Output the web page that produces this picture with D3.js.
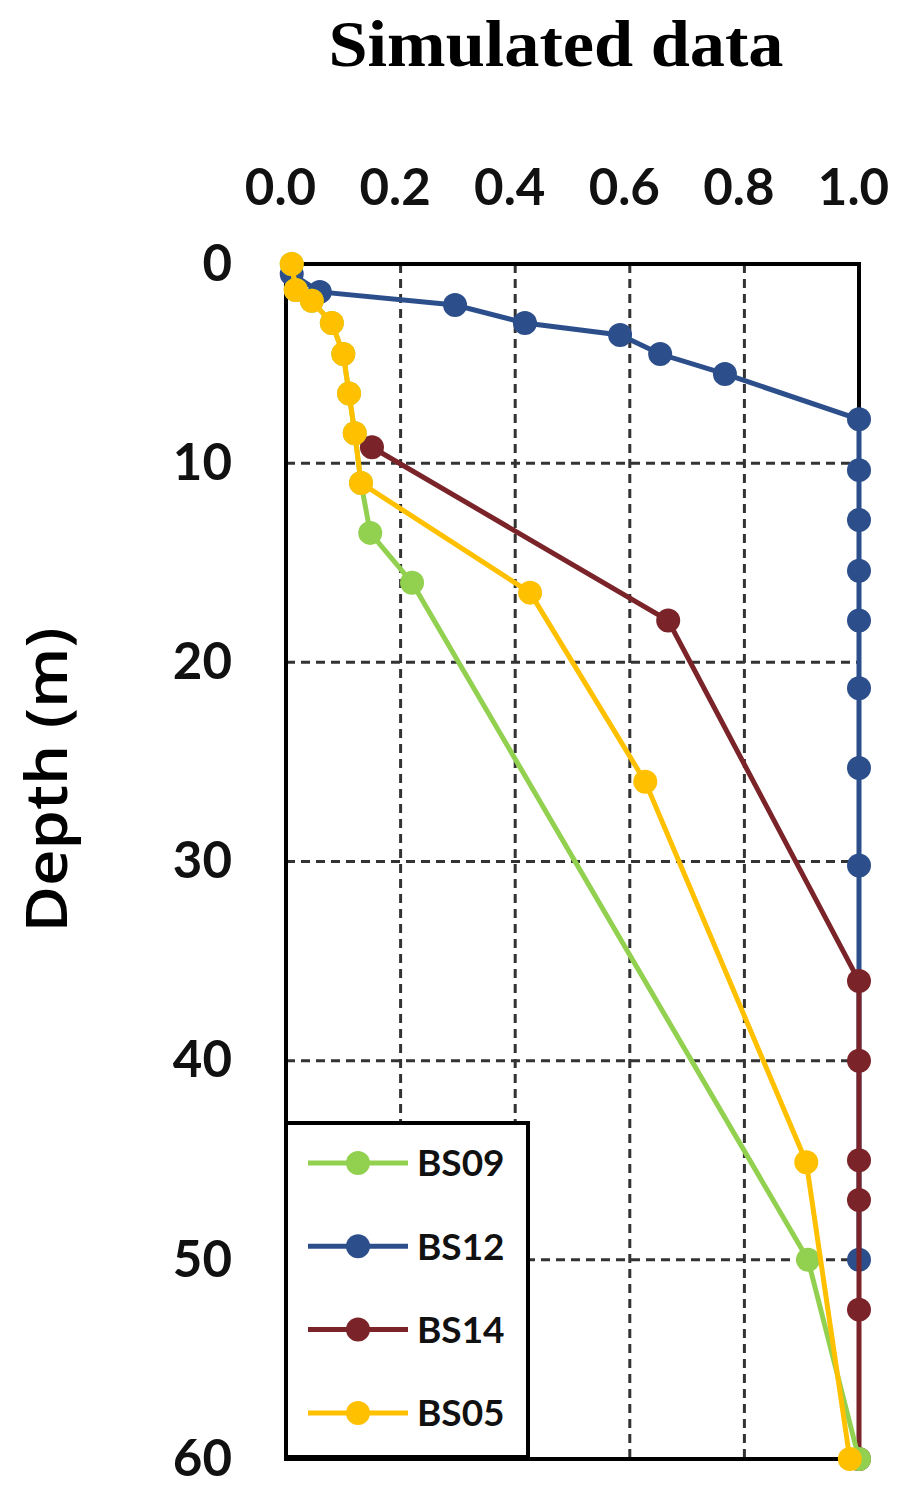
<!DOCTYPE html>
<html>
<head>
<meta charset="utf-8">
<script src="https://cdn.jsdelivr.net/npm/d3@7"></script>
<style>
  body { margin: 0; background: #fff; }
  svg { display: block; }
</style>
</head>
<body>
<svg id="chart" width="901" height="1495"></svg>
<script>
// tick values
const xTicks = [0.0, 0.2, 0.4, 0.6, 0.8, 1.0];
const yTicks = [0, 10, 20, 30, 40, 50, 60];

// series: [value, depth]
const bs12 = [[0.01, 0.5], [0.059, 1.4], [0.295, 2.06], [0.417, 2.96], [0.583, 3.56], [0.653, 4.52], [0.766, 5.52],
  [1.0, 7.8], [1.0, 10.35], [1.0, 12.85], [1.0, 15.4], [1.0, 17.9], [1.0, 21.3], [1.0, 25.3], [1.0, 30.2], [1.0, 50.0]];
const bs14 = [[0.15, 9.2], [0.667, 17.9], [1.0, 36.0], [1.0, 40.0], [1.0, 45.0], [1.0, 47.0], [1.0, 52.5], [1.0, 60.0]];
const bs09 = [[0.01, 0.0], [0.017, 1.3], [0.045, 1.85], [0.08, 2.96], [0.1, 4.52], [0.11, 6.5], [0.12, 8.5], [0.131, 11.0],
  [0.147, 13.5], [0.22, 16.0], [0.911, 50.0], [1.0, 60.0]];
const bs05 = [[0.01, 0.0], [0.017, 1.3], [0.045, 1.85], [0.08, 2.96], [0.1, 4.52], [0.11, 6.5], [0.12, 8.5], [0.131, 11.0],
  [0.426, 16.5], [0.627, 26.0], [0.908, 45.1], [0.984, 60.0]];

const seriesNames = ["BS09", "BS12", "BS14", "BS05"];
const seriesColors = {BS09: "#92d050", BS12: "#2c4f8c", BS14: "#7a2328", BS05: "#ffc000"};
const seriesData = {BS09: bs09, BS12: bs12, BS14: bs14, BS05: bs05};
const drawOrder = ["BS12", "BS14", "BS09", "BS05"];

var svg = d3.select("#chart");

// plot frame in pixels
var pLeft = 286, pRight = 859, pTop = 264, pBottom = 1459;

var x = d3.scaleLinear().domain([0, 1]).range([pLeft, pRight]);
var y = d3.scaleLinear().domain([0, 60]).range([pTop, pBottom]);

// title
svg.append("text")
    .attr("x", 556).attr("y", 66)
    .attr("text-anchor", "middle")
    .attr("font-family", "Liberation Serif, serif")
    .attr("font-weight", "bold")
    .attr("font-size", 66)
    .attr("textLength", 455)
    .attr("lengthAdjust", "spacingAndGlyphs")
    .text("Simulated data");

// axis title
svg.append("text")
    .attr("transform", "translate(67,780) rotate(-90)")
    .attr("text-anchor", "middle")
    .attr("font-family", "Open Sans, sans-serif")
    .attr("font-weight", 600)
    .attr("font-size", 58)
    .attr("textLength", 305)
    .attr("lengthAdjust", "spacingAndGlyphs")
    .text("Depth  (m)");

// grid
var grid = svg.append("g")
    .attr("stroke", "#333")
    .attr("stroke-width", 3)
    .attr("stroke-dasharray", "9,6");

grid.selectAll("line.vx")
    .data(xTicks.slice(1, -1))
    .enter().append("line")
      .attr("x1", d => x(d)).attr("x2", d => x(d))
      .attr("y1", pTop).attr("y2", pBottom);

grid.selectAll("line.hy")
    .data(yTicks.slice(1, -1))
    .enter().append("line")
      .attr("x1", pLeft).attr("x2", pRight)
      .attr("y1", d => y(d)).attr("y2", d => y(d));

// frame
svg.append("rect")
    .attr("x", pLeft).attr("y", pTop)
    .attr("width", pRight - pLeft).attr("height", pBottom - pTop)
    .attr("fill", "none")
    .attr("stroke", "#000")
    .attr("stroke-width", 4);

// axes
var xAxis = svg.append("g")
    .attr("transform", "translate(0," + pTop + ")")
    .call(d3.axisTop(x).tickValues(xTicks).tickFormat(d3.format(".1f")).tickSize(0).tickPadding(59));

var yAxis = svg.append("g")
    .attr("transform", "translate(" + pLeft + ",0)")
    .call(d3.axisLeft(y).tickValues(yTicks).tickSize(0).tickPadding(54));

[xAxis, yAxis].forEach(function(a) {
  a.select(".domain").remove();
  a.selectAll("text")
      .attr("font-family", "Lato, sans-serif")
      .attr("font-weight", "bold")
      .attr("font-size", 51)
      .attr("fill", "#111");
});
xAxis.selectAll("text").attr("dx", -6);

// legend box (drawn before series so markers stay on top)
var legend = svg.append("g");
legend.append("rect")
    .attr("x", pLeft).attr("y", 1123)
    .attr("width", 242).attr("height", 334)
    .attr("fill", "#fff")
    .attr("stroke", "#000")
    .attr("stroke-width", 4);

var line = d3.line()
    .x(d => x(d[0]))
    .y(d => y(d[1]));

drawOrder.forEach(function(name) {
  var g = svg.append("g");
  g.append("path")
      .datum(seriesData[name])
      .attr("d", line)
      .attr("fill", "none")
      .attr("stroke", seriesColors[name])
      .attr("stroke-width", 5);
  g.selectAll("circle")
      .data(seriesData[name])
      .enter().append("circle")
        .attr("cx", d => x(d[0]))
        .attr("cy", d => y(d[1]))
        .attr("r", 12)
        .attr("fill", seriesColors[name]);
});

// legend entries
var item = legend.selectAll("g.item")
    .data(seriesNames)
    .enter().append("g")
      .attr("class", "item")
      .attr("transform", (d, i) => "translate(0," + (1163 + i * 83.3) + ")");

item.append("line")
    .attr("x1", 308).attr("x2", 408)
    .attr("stroke", d => seriesColors[d])
    .attr("stroke-width", 5);

item.append("circle")
    .attr("cx", 358).attr("r", 12)
    .attr("fill", d => seriesColors[d]);

item.append("text")
    .attr("x", 417).attr("dy", "0.36em")
    .attr("font-family", "Lato, sans-serif")
    .attr("font-weight", "bold")
    .attr("font-size", 37)
    .attr("fill", "#111")
    .text(d => d);
</script>
</body>
</html>
